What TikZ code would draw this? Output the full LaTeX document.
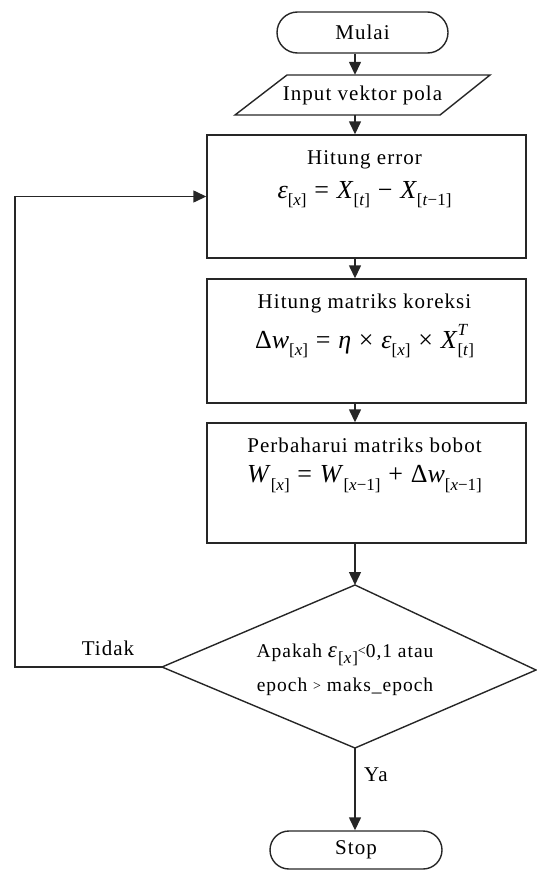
\documentclass[tikz,border=0pt]{standalone}
\usepackage{fontspec}
\setmainfont{Liberation Serif}
\newfontfamily\spaced{Liberation Serif}[LetterSpace=5.0]
\usetikzlibrary{arrows.meta,shapes.misc}
\newcommand{\sbx}[1]{\raisebox{-0.6ex}{\fontsize{17}{17}\selectfont[#1]}}
\newcommand{\supsub}[2]{\makebox[0pt][l]{\raisebox{1.1ex}{\fontsize{17}{17}\selectfont\textit{#1}}}\sbx{#2}}
\newcommand{\opsp}[1]{\hspace{0.3em}#1\hspace{0.3em}}
\tikzset{
  line/.style={draw=black!85, line width=1.4pt},
  arr/.style={line, -{Triangle[length=13pt,width=12pt]}},
  term/.style={line, rounded rectangle, inner sep=0pt, font=\spaced\fontsize{21}{25}\selectfont},
  procbox/.style={line, rectangle, minimum width=319pt, inner sep=0pt},
  lab/.style={font=\spaced\fontsize{21}{25}\selectfont, inner sep=0pt},
  eq/.style={font=\fontsize{26}{30}\selectfont, inner sep=0pt},
  dlab/.style={font=\spaced\fontsize{19.5}{23}\selectfont, inner sep=0pt, align=center},
}
\begin{document}
\begin{tikzpicture}[x=1pt,y=-1pt]
\useasboundingbox (0,0) rectangle (536,870);
\coordinate (ax) at (355,0);
% terminals
\node[term, minimum width=171pt, minimum height=41pt] (m) at (362.5,32.5) {Mulai};
% input
\node[lab, minimum width=205pt, minimum height=40pt] (inp) at (362.5,95) {Input vektor pola};
\draw[line] (287,75) -- (490,75) -- (440,115) -- (235,115) -- cycle;
% boxes
\node[procbox, minimum height=123pt] (b1) at (366.5,196.5) {};
\node[lab] (t1) at (364.5,160) {Hitung error};
\node[eq] (e1) at (364.5,195) {\textit{ε}\sbx{\textit{x}}\opsp{=}\textit{X}\sbx{\textit{t}}\opsp{−}\textit{X}\sbx{\textit{t}−1}};
\node[procbox, minimum height=124pt] (b2) at (366.5,341) {};
\node[lab] (t2) at (364.5,303) {Hitung matriks koreksi};
\node[eq] (e2) at (364.5,341) {Δ\textit{w}\sbx{\textit{x}}\opsp{=}\textit{η}\opsp{×}\textit{ε}\sbx{\textit{x}}\opsp{×}\textit{X}\supsub{T}{\textit{t}}};
\node[procbox, minimum height=120pt] (b3) at (366.5,483) {};
\node[lab] (t3) at (364.5,445) {Perbaharui matriks bobot};
\node[eq] (e3) at (364.5,479) {\textit{W}\sbx{\textit{x}}\opsp{=}\textit{W}\sbx{\textit{x}−1}\opsp{+}Δ\textit{w}\sbx{\textit{x}−1}};
% decision
\coordinate (dt) at (355,585);
\coordinate (dr) at (536,670);
\coordinate (db) at (355,748);
\coordinate (dl) at (162,667);
\draw[line] (dt) -- (dr) -- (db) -- (dl) -- cycle;
\node[dlab] (dtx) at (345,670) {Apakah {\fontsize{23}{23}\selectfont\textit{ε}}\sbx{\textit{x}}\raisebox{0.3ex}{\fontsize{14}{14}\selectfont<}0,1 atau\\[11pt]epoch \raisebox{0.15ex}{\fontsize{14}{14}\selectfont>} maks\_epoch};
\node[term, minimum width=172pt, minimum height=38pt] (st) at (356,850) {Stop};
% labels
\node[lab] (tidak) at (108,648) {Tidak};
\node[lab, anchor=west] (ya) at (364,775) {Ya};
% connectors
\coordinate (lp) at (15,667);
\draw[arr] (m.south -| ax) -- (inp.north -| ax);
\draw[arr] (inp.south -| ax) -- (b1.north -| ax);
\draw[arr] (b1.south -| ax) -- (b2.north -| ax);
\draw[arr] (b2.south -| ax) -- (b3.north -| ax);
\draw[arr] (b3.south -| ax) -- (dt);
\draw[arr] (db) -- (st.north -| ax);
\draw[arr] (dl) -- (lp) |- (b1.west);
\end{tikzpicture}
\end{document}
